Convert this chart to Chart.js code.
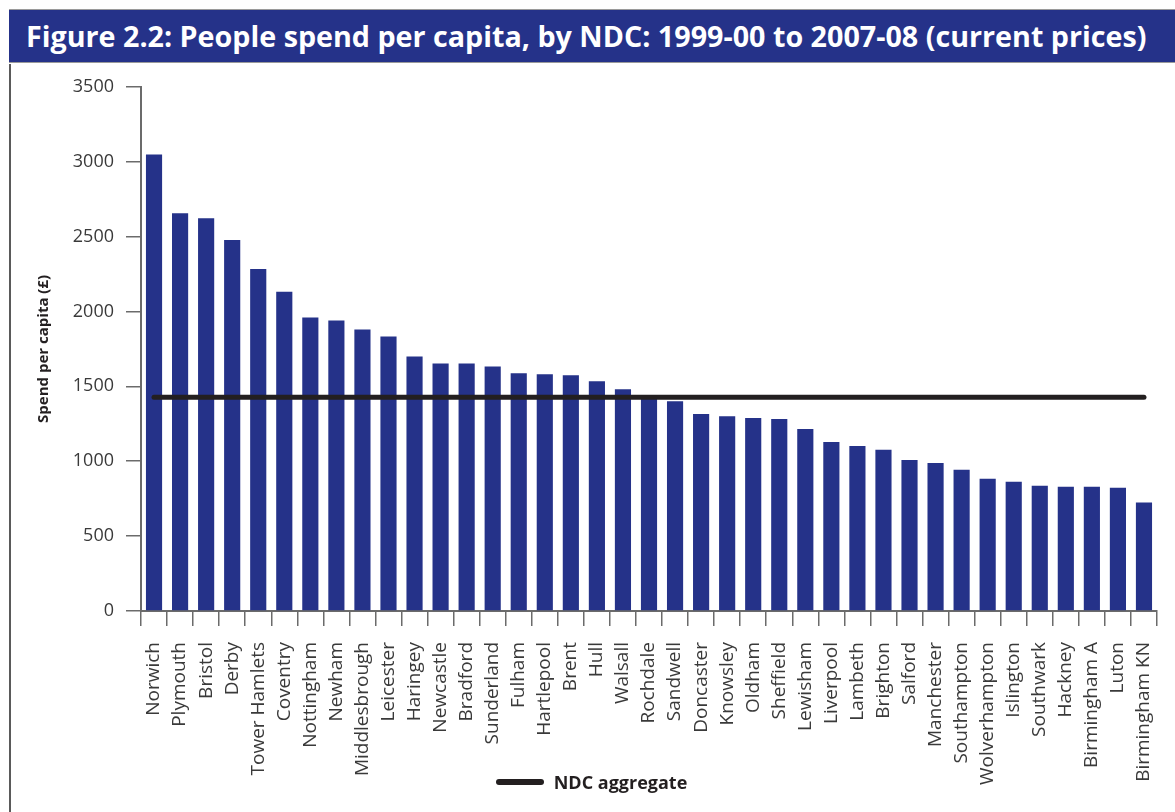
<!DOCTYPE html>
<html>
<head>
<meta charset="utf-8">
<script src="https://cdn.jsdelivr.net/npm/chart.js@4.4.1/dist/chart.umd.min.js"></script>
<style>
  html, body { margin: 0; padding: 0; background: #fff; }
  body { width: 1175px; height: 812px; position: relative; overflow: hidden; font-family: 'Open Sans', sans-serif; }
  #titleBar {
    position: absolute; left: 9px; top: 9px; width: 1166px; height: 54px;
    background: #253289; border-top: 1px solid #9a9a9a; border-bottom: 1px solid #9a9a9a;
    color: #fff; font-weight: 700; font-size: 28.7px; line-height: 52px;
    padding-left: 17px; box-sizing: border-box; white-space: nowrap;
  }
  #frame { position: absolute; left: 9px; top: 64px; width: 1166px; height: 748px; border-left: 2px solid #5a5a5a; box-sizing: border-box; }
  #chartBox { position: absolute; left: 0; top: 0; width: 1164px; height: 748px; }
  #legend { position: absolute; left: 0; width: 1175px; top: 770px; display: flex; justify-content: center; }
  .legend-item { display: flex; align-items: center; font-weight: 700; font-size: 18px; color: #231f20; margin-left: 8px; }
  .legend-swatch { width: 48px; height: 6px; border-radius: 3px; margin-right: 10px; }
</style>
</head>
<body>
<div id="titleBar">Figure 2.2: People spend per capita, by NDC: 1999-00 to 2007-08 (current prices)</div>
<div id="frame"><div id="chartBox"><canvas id="chart"></canvas></div></div>
<div id="legend"></div>
<script>
const areas = ['Norwich', 'Plymouth', 'Bristol', 'Derby', 'Tower Hamlets', 'Coventry', 'Nottingham', 'Newham',
    'Middlesbrough', 'Leicester', 'Haringey', 'Newcastle', 'Bradford', 'Sunderland', 'Fulham', 'Hartlepool',
    'Brent', 'Hull', 'Walsall', 'Rochdale', 'Sandwell', 'Doncaster', 'Knowsley', 'Oldham', 'Sheffield',
    'Lewisham', 'Liverpool', 'Lambeth', 'Brighton', 'Salford', 'Manchester', 'Southampton', 'Wolverhampton',
    'Islington', 'Southwark', 'Hackney', 'Birmingham A', 'Luton', 'Birmingham KN'];
const spendPerCapita = [3048, 2656, 2623, 2477, 2284, 2131, 1959, 1939,
    1879, 1833, 1700, 1653, 1653, 1633, 1587, 1580,
    1574, 1534, 1481, 1418, 1401, 1315, 1301, 1288, 1282,
    1215, 1129, 1102, 1076, 1009, 989, 943, 883,
    863, 837, 830, 830, 823, 724];
const ndcAggregate = 1428;
const yTicks = [0, 500, 1000, 1500, 2000, 2500, 3000, 3500];

const axisGrey = '#6b6b6b';
const textGrey = '#3a3a3a';

const chart = new Chart(document.getElementById('chart'), {
    data: {
        labels: areas,
        datasets: [{
            type: 'line',
            label: 'NDC aggregate',
            data: areas.map(() => ndcAggregate),
            borderColor: '#231f20',
            backgroundColor: '#231f20',
            borderWidth: 5,
            borderCapStyle: 'round',
            pointRadius: 0,
            order: 0
        }, {
            type: 'bar',
            label: 'Spend per capita',
            data: spendPerCapita,
            backgroundColor: '#253289',
            categoryPercentage: 1,
            barPercentage: 0.62,
            order: 1
        }]
    },
    options: {
        responsive: true,
        maintainAspectRatio: false,
        animation: false,
        layout: { padding: { top: 18, right: 18, bottom: 0, left: 0 } },
        plugins: {
            tooltip: { enabled: false },
            legend: { display: false }
        },
        scales: {
            x: {
                grid: { offset: true, drawOnChartArea: false, tickLength: 15, color: axisGrey, lineWidth: 1.5 },
                border: { color: axisGrey, width: 2 },
                ticks: {
                    autoSkip: false, minRotation: 90, maxRotation: 90, padding: 16,
                    color: textGrey, font: { family: 'Open Sans', size: 19 }
                },
                afterFit: scale => {
                    scale.height = 201;
                    scale.paddingLeft = 0;
                    scale.paddingRight = 0;
                }
            },
            y: {
                min: 0,
                max: 3500,
                afterBuildTicks: scale => { scale.ticks = yTicks.map(v => ({ value: v })); },
                grid: { drawOnChartArea: false, tickLength: 15, color: axisGrey, lineWidth: 1.5 },
                border: { color: axisGrey, width: 2 },
                ticks: {
                    padding: 12, color: textGrey, font: { family: 'Open Sans', size: 18 },
                    callback: value => String(value)
                },
                title: {
                    display: true,
                    text: 'Spend per capita (£)',
                    color: '#231f20',
                    font: { family: 'Open Sans', size: 15, weight: 'bold' },
                    padding: { top: 24, bottom: 0 }
                },
                afterFit: scale => { scale.width = 130; }
            }
        }
    }
});

// html legend, only the aggregate line is listed
const legendBox = document.getElementById('legend');
chart.data.datasets.filter(ds => ds.type === 'line').forEach(ds => {
    const item = document.createElement('div');
    item.className = 'legend-item';
    const swatch = document.createElement('span');
    swatch.className = 'legend-swatch';
    swatch.style.background = ds.borderColor;
    const text = document.createElement('span');
    text.textContent = ds.label;
    item.append(swatch, text);
    legendBox.appendChild(item);
});
</script>
</body>
</html>
